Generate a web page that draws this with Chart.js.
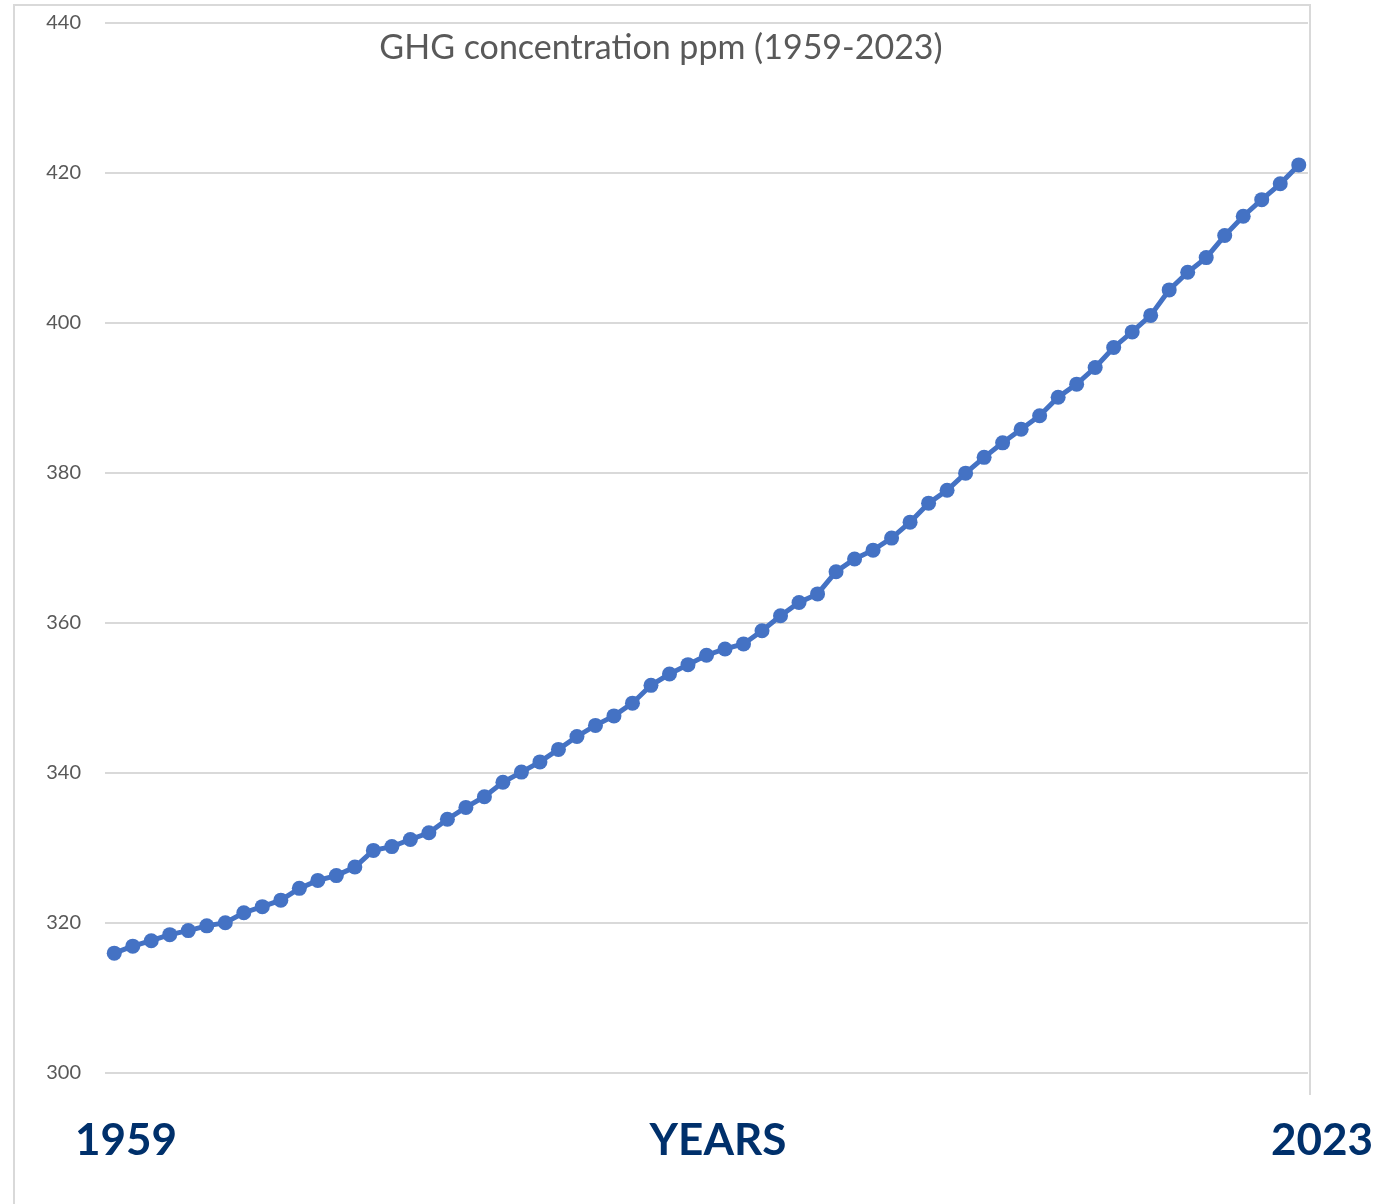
<!DOCTYPE html>
<html>
<head>
<meta charset="utf-8">
<title>GHG concentration ppm (1959-2023)</title>
<script src="https://cdn.jsdelivr.net/npm/chart.js@4/dist/chart.umd.min.js"></script>
<style>
  html, body { margin: 0; padding: 0; background: #fff; }
  #wrap { width: 1378px; height: 1204px; position: relative; }
</style>
</head>
<body>
<div id="wrap"><canvas id="ghgChart" width="1378" height="1204"></canvas></div>
<script>
// Data: annual mean CO2 (ppm)
const years = [];
for (let y = 1959; y <= 2023; y++) years.push(String(y));

const ppm = [
    315.98, 316.91, 317.64, 318.45, 318.99, 319.62, 320.04, 321.37, 322.18, 323.05,
    324.62, 325.68, 326.32, 327.46, 329.68, 330.19, 331.13, 332.03, 333.84, 335.41,
    336.84, 338.76, 340.12, 341.48, 343.15, 344.87, 346.35, 347.61, 349.31, 351.69,
    353.20, 354.45, 355.70, 356.54, 357.21, 358.96, 360.97, 362.74, 363.88, 366.84,
    368.54, 369.71, 371.32, 373.45, 375.98, 377.70, 379.98, 382.09, 384.02, 385.83,
    387.64, 390.10, 391.85, 394.06, 396.74, 398.81, 401.01, 404.41, 406.76, 408.72,
    411.66, 414.24, 416.45, 418.56, 421.08
];

const yTicks = [300, 320, 340, 360, 380, 400, 420, 440];
const chartTitle = 'GHG concentration ppm (1959-2023)';
const bottomLabels = ['1959', 'YEARS', '2023'];

// Frame, title and the big bottom labels
const decorPlugin = {
    id: 'decor',
    beforeDraw(chart) {
        const c = chart.ctx;
        c.save();
        c.strokeStyle = '#d9d9d9';
        c.lineWidth = 2;
        c.beginPath();
        c.moveTo(14, 1204);
        c.lineTo(14, 5);
        c.lineTo(1310, 5);
        c.lineTo(1310, 1095);
        c.stroke();
        c.restore();
    },
    afterDraw(chart) {
        const c = chart.ctx;
        c.save();
        c.textAlign = 'center';
        c.textBaseline = 'middle';
        c.fillStyle = '#595959';
        c.font = '34px Lato, "Open Sans", sans-serif';
        c.fillText(chartTitle, 661, 48);

        c.fillStyle = '#00306b';
        c.font = 'bold 44px Lato, "Open Sans", sans-serif';
        c.fillText(bottomLabels[0], 126, 1141);
        c.fillText(bottomLabels[1], 718, 1141);
        c.fillText(bottomLabels[2], 1322, 1141);
        c.restore();
    }
};

const ctx = document.getElementById('ghgChart').getContext('2d');
const ghgChart = new Chart(ctx, {
    type: 'line',
    data: {
        labels: years,
        datasets: [{
            label: 'CO2 ppm',
            data: ppm,
            borderColor: '#4472c4',
            backgroundColor: '#4472c4',
            borderWidth: 5,
            pointRadius: 7.5,
            pointBorderWidth: 0,
            tension: 0
        }]
    },
    options: {
        responsive: false,
        animation: false,
        layout: {
            autoPadding: false,
            padding: { left: 0, right: 70, top: 0, bottom: 131 }
        },
        plugins: {
            legend: { display: false },
            tooltip: { enabled: false }
        },
        scales: {
            x: {
                display: false,
                offset: true
            },
            y: {
                min: 300,
                max: 440,
                afterFit(scale) {
                    scale.width = 105;
                    scale.paddingTop = 23;
                    scale.paddingBottom = 0;
                },
                afterBuildTicks(scale) {
                    scale.ticks = yTicks.map(v => ({ value: v }));
                },
                border: { display: false },
                grid: {
                    color: '#d9d9d9',
                    lineWidth: 2,
                    drawTicks: false
                },
                ticks: {
                    padding: 24,
                    color: '#595959',
                    font: { family: 'Lato, "Open Sans", sans-serif', size: 20 }
                }
            }
        }
    },
    plugins: [decorPlugin]
});
</script>
</body>
</html>
